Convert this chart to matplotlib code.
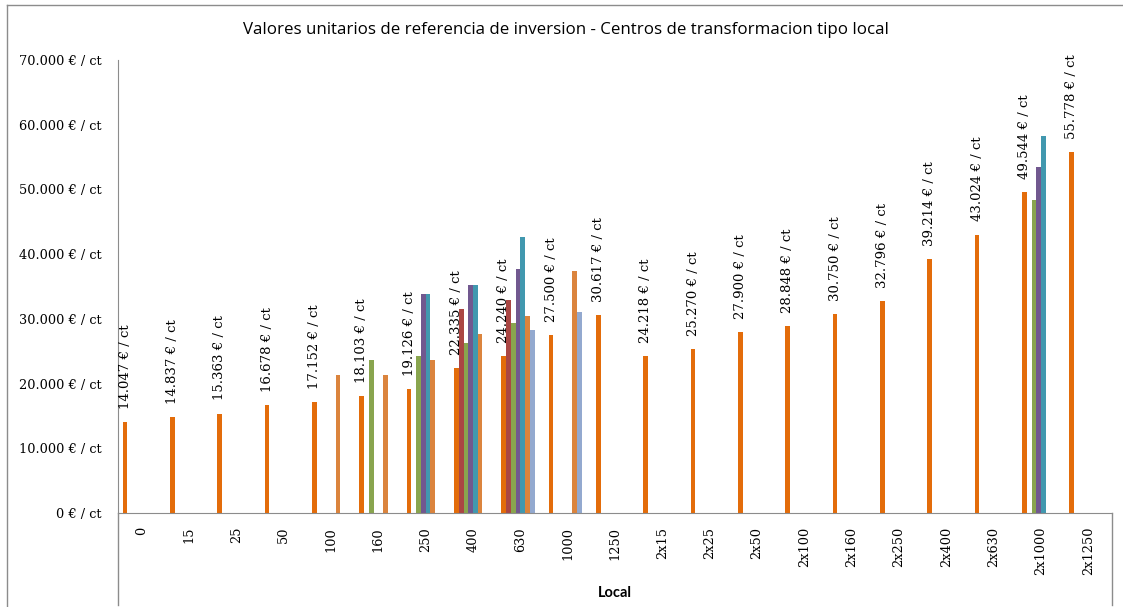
import numpy as np
import matplotlib.pyplot as plt
from matplotlib.lines import Line2D

# categorias (potencia del centro)
categorias = ['0', '15', '25', '50', '100', '160', '250', '400', '630', '1000', '1250',
              '2x15', '2x25', '2x50', '2x100', '2x160', '2x250', '2x400', '2x630',
              '2x1000', '2x1250']

# serie principal (con etiquetas)
serie_1 = [14047, 14837, 15363, 16678, 17152, 18103, 19126, 22335, 24240, 27500, 30617,
           24218, 25270, 27900, 28848, 30750, 32796, 39214, 43024, 49544, 55778]
# resto de series (None = sin dato)
serie_2 = [None] * 7 + [31500, 32900] + [None] * 12
serie_3 = [None] * 5 + [23700, 24300, 26200, 29300] + [None] * 10 + [48400, None]
serie_4 = [None] * 6 + [33850, 35300, 37700] + [None] * 10 + [53400, None]
serie_5 = [None] * 6 + [33850, 35300, 42700] + [None] * 10 + [58300, None]
serie_6 = [None] * 4 + [21330, 21330, 23700, 27700, 30400, 37400] + [None] * 11
serie_7 = [None] * 8 + [28300, 31000] + [None] * 11
serie_8 = [None] * 21

series = [serie_1, serie_2, serie_3, serie_4, serie_5, serie_6, serie_7, serie_8]
colores = ['#E36C0A', '#AA4643', '#89A54E', '#71588F', '#4198AF', '#DB843D', '#93A9CF', '#4572A7']

fig = plt.figure(figsize=(11.23, 6.07), dpi=100)
ax = fig.add_axes([118 / 1123, 1 - 513 / 607, (1112 - 118) / 1123, (513 - 60) / 607])

x = np.arange(len(categorias))
ancho = 0.1
for k, (s, c) in enumerate(zip(series, colores)):
    vals = np.array([np.nan if v is None else v for v in s], dtype=float)
    ax.bar(x + (k - 3.5) * ancho, vals, width=ancho, color=c, linewidth=0)

# etiquetas de la serie principal
for xi, v in zip(x, serie_1):
    etiqueta = f'{v:,.0f}'.replace(',', '.') + ' € / ct'
    ax.annotate(etiqueta, (xi - 3.5 * ancho, v), xytext=(0, 9.5), textcoords='offset points',
                rotation=90, ha='center', va='bottom', family='DejaVu Serif', fontsize=9.5)

ax.set_xlim(-0.5, len(categorias) - 0.5)
ax.set_ylim(0, 70000)
ax.set_yticks(np.arange(0, 70001, 10000))
ax.set_yticklabels([f'{int(t):,}'.replace(',', '.') + ' € / ct' for t in np.arange(0, 70001, 10000)],
                   family='DejaVu Serif', fontsize=9.3)
ax.set_xticks(x)
ax.set_xticklabels(categorias, rotation=90, family='DejaVu Serif', fontsize=9.3)
ax.tick_params(axis='y', length=0, pad=12)
ax.tick_params(axis='x', length=0, pad=10)

for lado in ['top', 'right']:
    ax.spines[lado].set_visible(False)
for lado in ['left', 'bottom']:
    ax.spines[lado].set_color('#8C8C8C')

# separadores del eje de categorias de segundo nivel
baja = 92 / 453
ax.plot([0, 0], [0, -baja], transform=ax.transAxes, clip_on=False, color='#8C8C8C', lw=1)
ax.plot([1, 1], [0, -baja], transform=ax.transAxes, clip_on=False, color='#8C8C8C', lw=1)
ax.text(0.5, -(593 - 513) / 453, 'Local', transform=ax.transAxes, ha='center', va='center',
        family='Lato', fontweight='bold', fontsize=10.5)

fig.text(566 / 1123, 1 - 30 / 607,
         'Valores unitarios de referencia de inversion - Centros de transformacion tipo local',
         ha='center', va='center', family='Open Sans', fontsize=12.2)

# borde del grafico
fig.add_artist(Line2D([7 / 1123, 7 / 1123], [0, 1 - 5 / 607], color='#8C8C8C', lw=1))
fig.add_artist(Line2D([7 / 1123, 1], [1 - 5 / 607, 1 - 5 / 607], color='#8C8C8C', lw=1))

fig.savefig('out.png', dpi=100)
